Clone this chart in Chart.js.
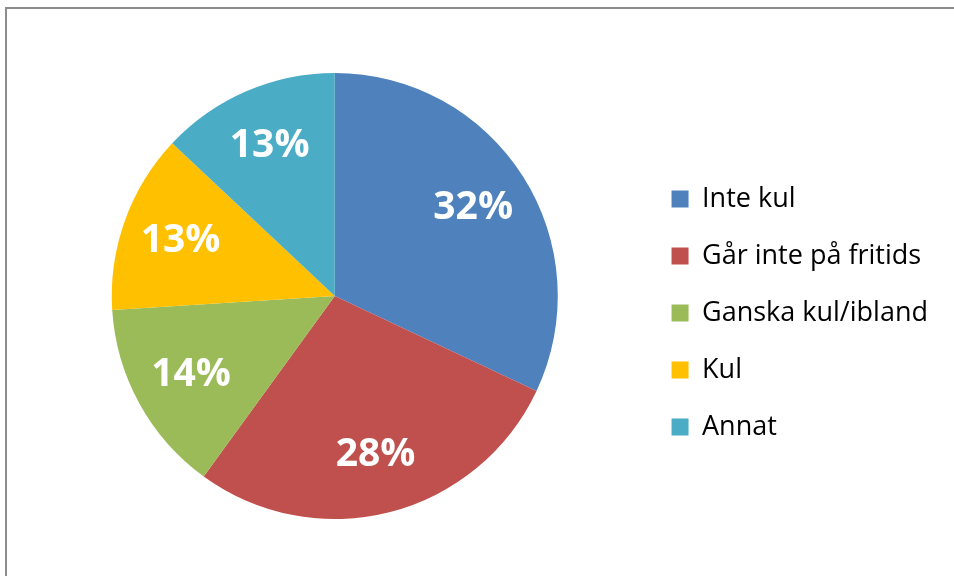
<!DOCTYPE html>
<html>
<head>
<meta charset="utf-8">
<script src="https://cdn.jsdelivr.net/npm/chart.js@4.4.1/dist/chart.umd.min.js"></script>
<style>
  html, body { margin: 0; padding: 0; background: #fff; }
  #frame {
    position: absolute; left: 5px; top: 7px; width: 949px; height: 569px;
    border-top: 2px solid #8c8c8c; border-left: 2px solid #8c8c8c;
    box-sizing: border-box;
  }
  #wrap { position: absolute; left: 0; top: 0; width: 954px; height: 576px; }
</style>
</head>
<body>
<div id="frame"></div>
<div id="wrap"><canvas id="pieChart"></canvas></div>
<script>
// data
const labels = ['Inte kul', 'Går inte på fritids', 'Ganska kul/ibland', 'Kul', 'Annat'];
const values = [32, 28, 14, 13, 13];
const colors = ['#4F81BD', '#C0504D', '#9BBB59', '#FFC000', '#4BACC6'];

// white percentage labels inside the slices
const sliceLabels = {
  id: 'sliceLabels',
  afterDatasetsDraw(chart) {
    const ctx = chart.ctx;
    const meta = chart.getDatasetMeta(0);
    const total = values.reduce((a, b) => a + b, 0);
    ctx.save();
    ctx.fillStyle = '#fff';
    ctx.font = 'bold 39px "Open Sans", sans-serif';
    ctx.textAlign = 'center';
    ctx.textBaseline = 'middle';
    meta.data.forEach((arc, i) => {
      const p = arc.getProps(['x', 'y', 'startAngle', 'endAngle', 'outerRadius'], true);
      const mid = (p.startAngle + p.endAngle) / 2;
      const r = p.outerRadius * 0.735;
      const pct = Math.round(values[i] / total * 100) + '%';
      ctx.fillText(pct, p.x + Math.cos(mid) * r, p.y + Math.sin(mid) * r);
    });
    ctx.restore();
  }
};

new Chart(document.getElementById('pieChart'), {
  type: 'pie',
  data: {
    labels: labels,
    datasets: [{
      data: values,
      backgroundColor: colors,
      borderWidth: 0
    }]
  },
  options: {
    responsive: true,
    maintainAspectRatio: false,
    animation: false,
    layout: { padding: { top: 73, bottom: 57, left: 28, right: 16 } },
    plugins: {
      tooltip: { enabled: false },
      legend: {
        position: 'right',
        // empty title only pushes the items down a little
        title: { display: true, text: ' ', padding: 12, font: { size: 10, lineHeight: 1 } },
        labels: {
          boxWidth: 17,
          boxHeight: 17,
          padding: 30,
          color: '#000',
          font: { family: '"Open Sans", sans-serif', size: 27 }
        }
      }
    }
  },
  plugins: [sliceLabels]
});
</script>
</body>
</html>
